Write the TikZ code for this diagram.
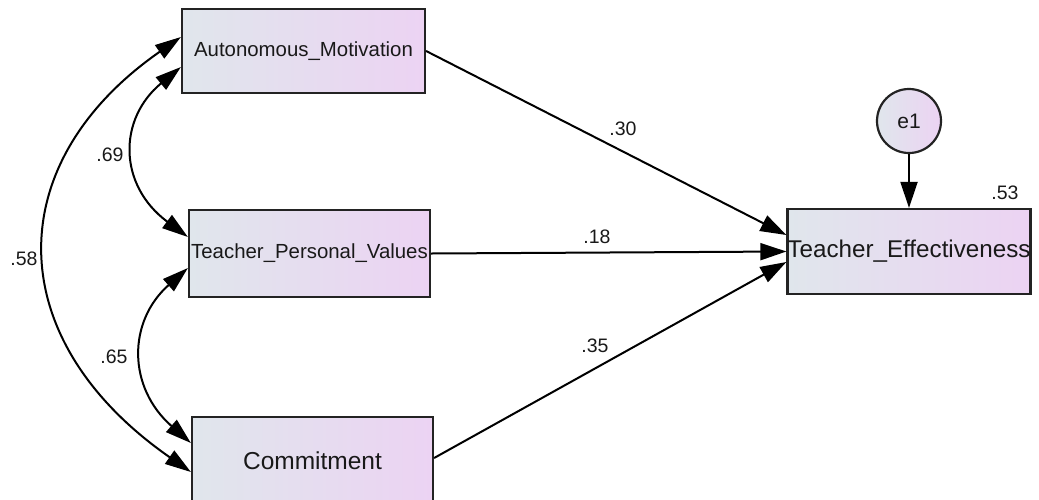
\documentclass[tikz,border=0pt]{standalone}
\usepackage{fontspec}
\setmainfont{Liberation Sans}
\usetikzlibrary{arrows.meta,calc}
\definecolor{boxL}{RGB}{224,230,236}
\definecolor{boxR}{RGB}{236,211,243}
\definecolor{edgecol}{RGB}{35,35,35}
\begin{document}
\begin{tikzpicture}[x=1pt,y=-1pt,
  var/.style={draw=edgecol, line width=2.2pt, left color=boxL, right color=boxR, inner sep=0pt, text=black!90},
  pathar/.style={line width=2pt, -{Triangle[length=26pt,width=17pt]}},
  covar/.style={line width=2pt, {Triangle[length=26pt,width=16pt]}-{Triangle[length=26pt,width=16pt]}},
  lbl/.style={font=\fontsize{19.5}{20}\selectfont, inner sep=0pt, text=black!90}]
\useasboundingbox (0,0) rectangle (1039,499);
\node[var, minimum width=243pt, minimum height=84pt, font=\fontsize{20.4}{22}\selectfont] (AM) at (303.5,51) {Autonomous\_Motivation};
\node[var, minimum width=241pt, minimum height=87pt, font=\fontsize{20.4}{22}\selectfont] (TPV) at (309.5,253.5) {Teacher\_Personal\_Values};
\node[var, minimum width=241pt, minimum height=87pt, font=\fontsize{24.5}{24}\selectfont] (COM) at (312.5,460.5) {Commitment};
\node[var, minimum width=242pt, minimum height=85pt, font=\fontsize{24.2}{24}\selectfont] (TE) at (909,251.5) {Teacher\_Effectiveness};
\node[var, circle, minimum size=64pt, font=\fontsize{21}{21}\selectfont] (e1) at (909,121) {e1};
\draw[pathar] (AM.east) -- ([yshift=16.5pt]TE.west);
\draw[pathar] (TPV.east) -- (TE.west);
\draw[pathar] ([yshift=2.5pt]COM.east) -- ([yshift=-10.5pt]TE.west);
\draw[pathar] (e1.south) -- (TE.north);
\draw[covar] ([yshift=-16pt]AM.west) .. controls +(-63,52) and +(-70,-52) .. ([yshift=16.5pt]TPV.west);
\draw[covar] ([yshift=14pt]AM.west) .. controls +(-181,126) and +(-191,-133) .. ([yshift=-11.5pt]COM.west);
\draw[covar] ([yshift=-14.5pt]TPV.west) .. controls +(-60.5,53.5) and +(-63.5,-55.6) .. ([yshift=17.5pt]COM.west);
\node[lbl] (l30) at (623,129) {.30};
\node[lbl] (l18) at (597,237) {.18};
\node[lbl] (l35) at (595,346) {.35};
\node[lbl] (l53) at (1005,193) {.53};
\node[lbl] (l69) at (110,155) {.69};
\node[lbl] (l58) at (24,259) {.58};
\node[lbl] (l65) at (114,357) {.65};
\end{tikzpicture}
\end{document}
